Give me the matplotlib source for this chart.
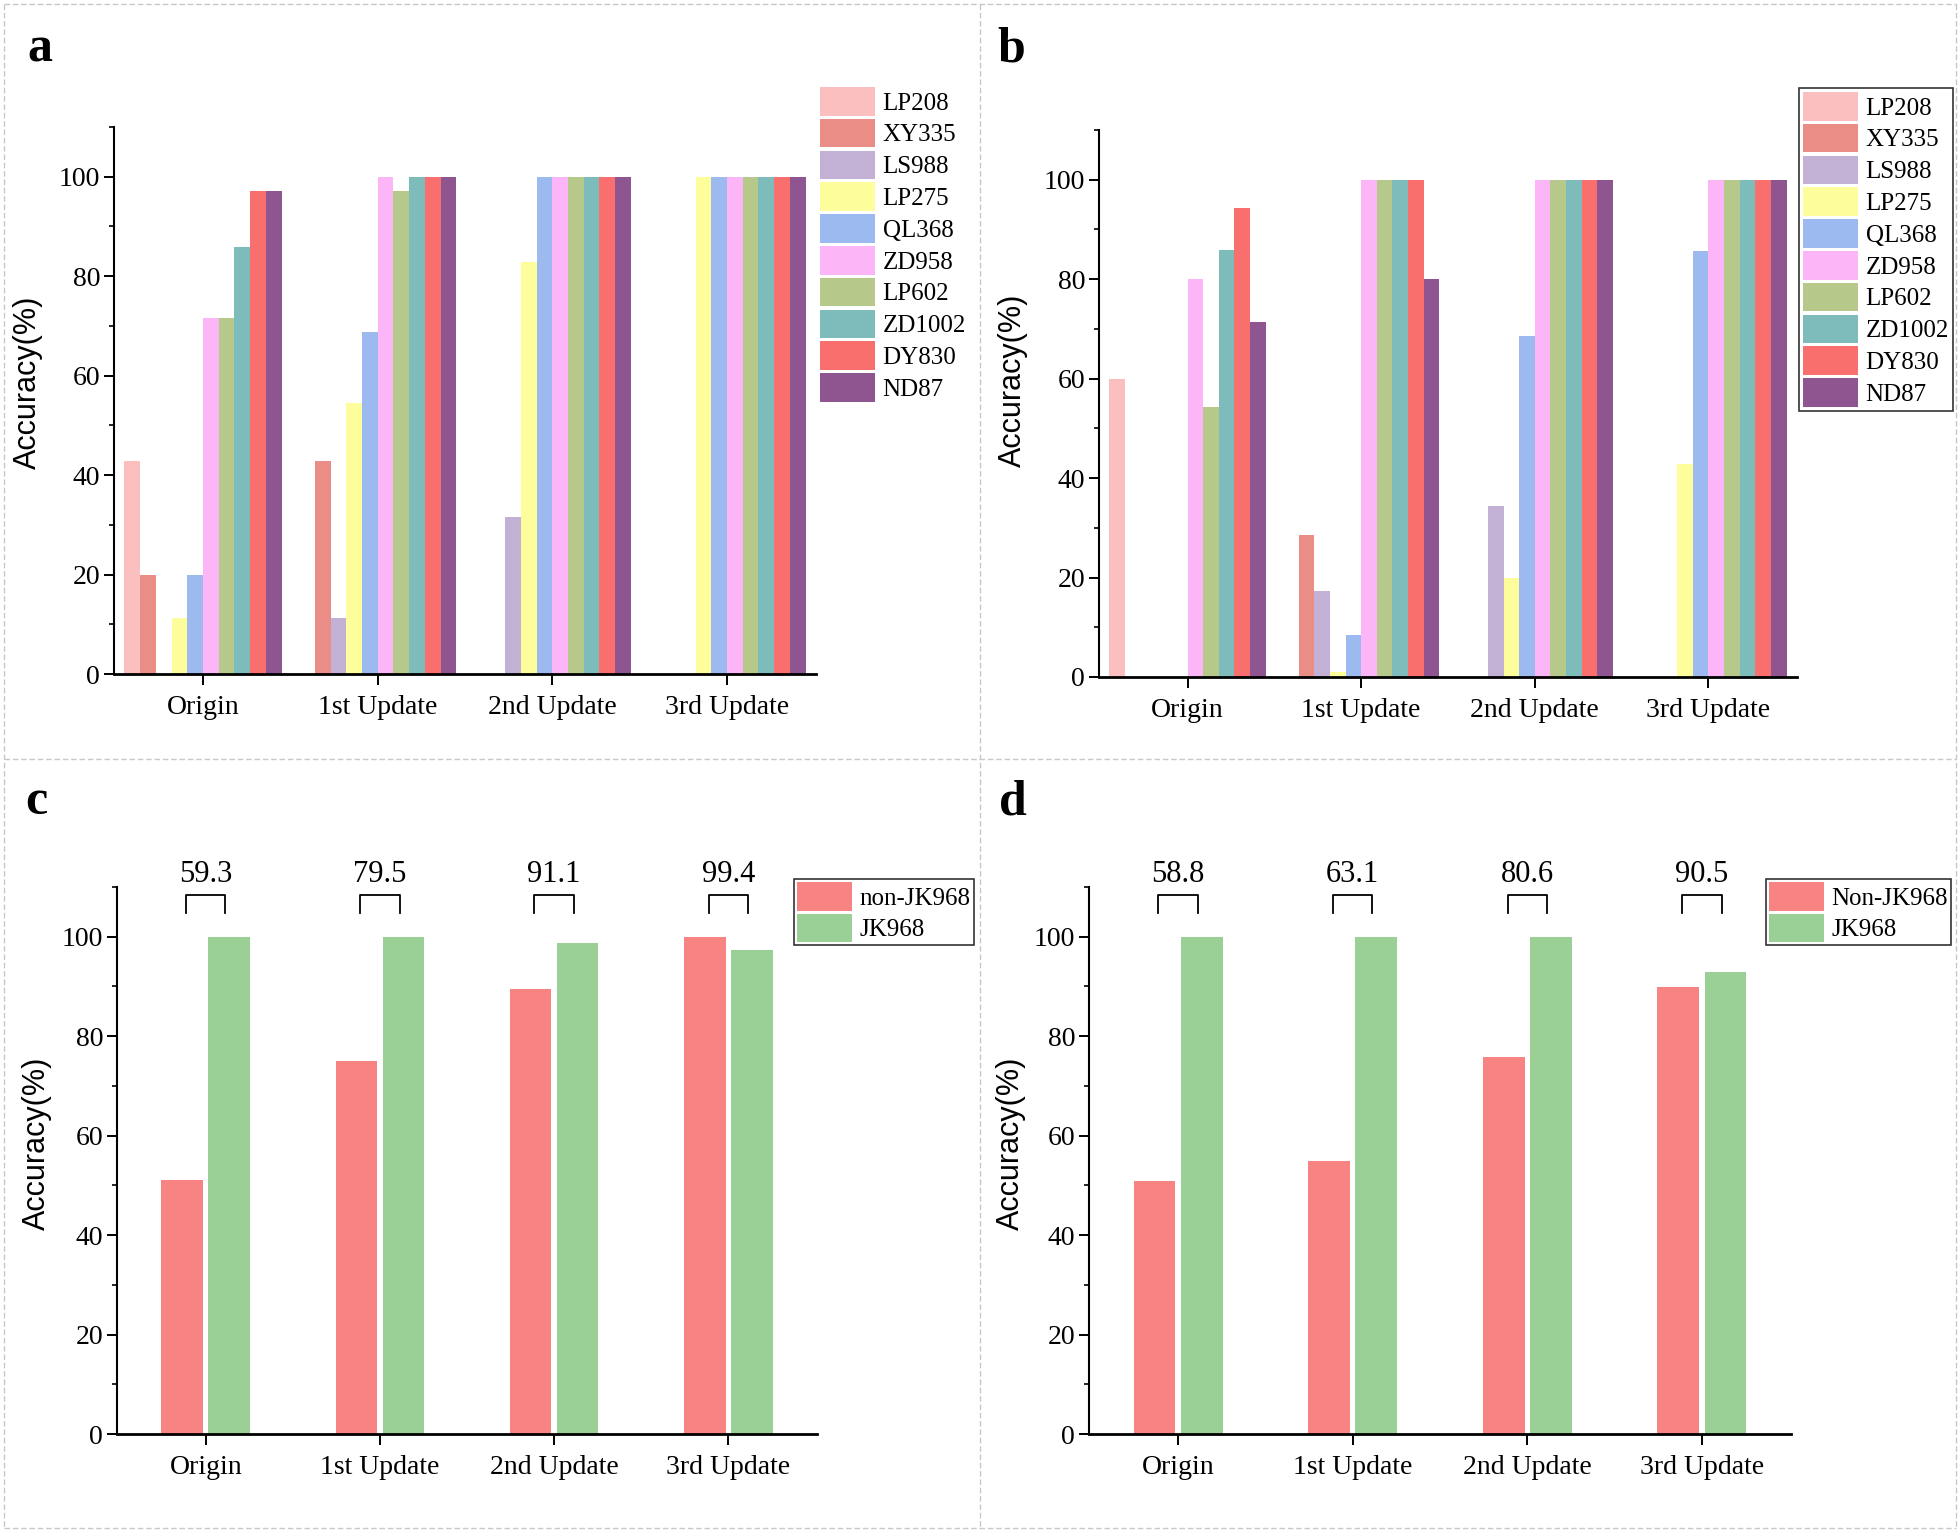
import matplotlib
matplotlib.use("Agg")
import matplotlib.pyplot as plt
import numpy as np
from matplotlib.lines import Line2D
from matplotlib.ticker import MultipleLocator

plt.rcParams["font.family"] = ["Liberation Serif", "DejaVu Serif"]

STAGES = ["Origin", "1st Update", "2nd Update", "3rd Update"]
VARIETIES = ["LP208", "XY335", "LS988", "LP275", "QL368",
             "ZD958", "LP602", "ZD1002", "DY830", "ND87"]
VAR_COLORS = ["#FBBFBF", "#EA8D86", "#C2B1D5", "#FEFD9C", "#9DBAF0",
              "#FCB6F7", "#B7C98A", "#7EBCBC", "#F96F6E", "#8F5591"]

# panel a: accuracy per variety at each stage
acc_a = {
    "LP208":  [42.9, 0, 0, 0],
    "XY335":  [20.0, 42.9, 0, 0],
    "LS988":  [0, 11.2, 31.5, 0],
    "LP275":  [11.2, 54.4, 82.8, 100],
    "QL368":  [20.0, 68.7, 100, 100],
    "ZD958":  [71.6, 100, 100, 100],
    "LP602":  [71.6, 97.2, 100, 100],
    "ZD1002": [85.8, 100, 100, 100],
    "DY830":  [97.2, 100, 100, 100],
    "ND87":   [97.2, 100, 100, 100],
}

# panel b
acc_b = {
    "LP208":  [60.0, 0, 0, 0],
    "XY335":  [0, 28.6, 0, 0],
    "LS988":  [0, 17.2, 34.3, 0],
    "LP275":  [0, 1.1, 20.0, 42.9],
    "QL368":  [0, 8.5, 68.6, 85.7],
    "ZD958":  [80.0, 100, 100, 100],
    "LP602":  [54.2, 100, 100, 100],
    "ZD1002": [85.8, 100, 100, 100],
    "DY830":  [94.3, 100, 100, 100],
    "ND87":   [71.4, 80.0, 100, 100],
}

# panel c / d
non_c = [51.1, 75.0, 89.5, 100]
jk_c = [100, 100, 98.7, 97.3]
overall_c = ["59.3", "79.5", "91.1", "99.4"]

non_d = [50.8, 54.9, 75.9, 89.9]
jk_d = [100, 100, 100, 92.9]
overall_d = ["58.8", "63.1", "80.6", "90.5"]

W, H = 1960, 1534
fig = plt.figure(figsize=(W / 100, H / 100), dpi=100)


def fx(px):
    return px / W


def fy(py):
    return 1 - py / H


def make_ax(left, right, top, bottom):
    ax = fig.add_axes([fx(left), fy(bottom), fx(right - left), (bottom - top) / H])
    ax.spines["top"].set_visible(False)
    ax.spines["right"].set_visible(False)
    ax.spines["left"].set_linewidth(1.5)
    ax.spines["bottom"].set_linewidth(2.0)
    ax.set_ylim(0, 110)
    ax.set_xlim(-0.51, 3.51)
    ax.yaxis.set_major_locator(MultipleLocator(20))
    ax.yaxis.set_minor_locator(MultipleLocator(10))
    ax.tick_params(axis="y", which="major", length=7, width=1.4, labelsize=20, pad=3)
    ax.tick_params(axis="y", which="minor", length=3.6, width=1.2)
    ax.tick_params(axis="x", which="major", length=8, width=1.4, labelsize=20, pad=7)
    ax.set_xticks(range(len(STAGES)))
    ax.set_xticklabels(STAGES)
    return ax


def legend_at(ax, handles, labels, x, y, frame, pad):
    leg = ax.legend(handles, labels, loc="upper left",
                    bbox_to_anchor=(fx(x), fy(y)), bbox_transform=fig.transFigure,
                    fontsize=18, frameon=frame, fancybox=False, borderaxespad=0,
                    borderpad=pad, handlelength=2.2, handleheight=1.38,
                    labelspacing=0.13, handletextpad=0.3)
    if frame:
        leg.get_frame().set_edgecolor("black")
        leg.get_frame().set_linewidth(1.2)
    return leg


def variety_panel(ax, data):
    x = np.arange(len(STAGES))
    bw = 0.09
    bars = []
    for i, name in enumerate(VARIETIES):
        b = ax.bar(x + (i - 4.5) * bw, data[name], bw, color=VAR_COLORS[i],
                   linewidth=0, label=name)
        bars.append(b)
    return bars


def jk_panel(ax, non, jk, overall, non_label):
    x = np.arange(len(STAGES))
    bw = 0.24
    b1 = ax.bar(x - 0.135, non, bw, color="#F88383", linewidth=0)
    b2 = ax.bar(x + 0.135, jk, bw, color="#9AD095", linewidth=0)
    for xi, txt in zip(x, overall):
        ax.plot([xi - 0.113, xi - 0.113, xi + 0.113, xi + 0.113],
                [104.8, 108.3, 108.3, 104.8], color="black", lw=1.3, clip_on=False)
        ax.text(xi, 112.6, txt, ha="center", va="center", fontsize=22, clip_on=False)
    return [b1, b2], [non_label, "JK968"]


# panel a
ax_a = make_ax(114, 816, 127, 674)
bars = variety_panel(ax_a, acc_a)
legend_at(ax_a, bars, VARIETIES, 815, 82, False, 0.2)

# panel b
ax_b = make_ax(1099, 1797, 130, 677)
bars = variety_panel(ax_b, acc_b)
legend_at(ax_b, bars, VARIETIES, 1799, 88, True, 0.16)

# panel c
ax_c = make_ax(117, 817, 887, 1434)
h, l = jk_panel(ax_c, non_c, jk_c, overall_c, "non-JK968")
legend_at(ax_c, h, l, 794, 879, True, 0.12)

# panel d
ax_d = make_ax(1089, 1791, 887, 1434)
h, l = jk_panel(ax_d, non_d, jk_d, overall_d, "Non-JK968")
legend_at(ax_d, h, l, 1766, 879, True, 0.12)

# y labels
for x, y in [(28, 382), (1013, 380), (37, 1143), (1011, 1143)]:
    fig.text(fx(x), fy(y), "Accuracy(%)", rotation=90, ha="center", va="center",
             fontsize=22, family=["Liberation Sans", "DejaVu Sans"])

# panel letters
for txt, x, y in [("a", 27, 61), ("b", 997, 61), ("c", 25, 814), ("d", 999, 814)]:
    fig.text(fx(x), fy(y), txt, ha="left", va="baseline", fontsize=36, fontweight="bold")

# dashed panel frames
dash = dict(color="#C8C8C8", lw=1.0, linestyle=(0, (4, 2)), transform=fig.transFigure)
for (x0, y0, x1, y1) in [(4, 4, 1956, 4), (4, 1528, 1956, 1528), (4, 4, 4, 1528),
                         (1956, 4, 1956, 1528), (980, 4, 980, 1528), (4, 759, 1956, 759)]:
    fig.add_artist(Line2D([fx(x0), fx(x1)], [fy(y0), fy(y1)], **dash))

fig.savefig("out.png", dpi=100)
